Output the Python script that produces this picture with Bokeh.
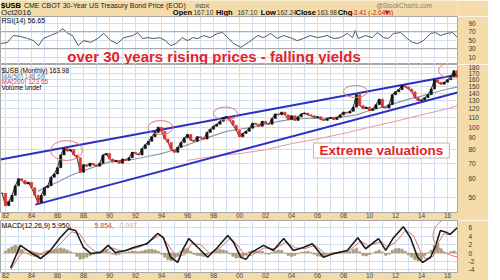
from bokeh.plotting import figure
from bokeh.layouts import column
from bokeh.models import Range1d, FixedTicker, Label, Span
from bokeh.embed import file_html
from bokeh.resources import INLINE

FONT = "Liberation Sans"
TAN = "#f3dcaa"
GRID = "#cfdff0"
W = 488
RB = 31
X0, X1 = 1981.615, 2016.77

# ---------------- data ----------------
year_ticks = list(range(1982, 2017, 2))
year_labels = {y: "%02d" % (y % 100) for y in year_ticks}
grid_years = list(range(1982, 2017))

price_ticks = [50, 60, 70, 80, 90, 100, 110, 120, 130, 140, 150, 160, 170, 180]
rsi_ticks = [10, 30, 50, 70, 90]
macd_ticks = [-4, -2, 0, 2, 4, 6]

price_start = 1981.75
price_close = [
    52,
    46, 48, 51, 56,   60, 59, 57, 58,   55, 51, 47.5, 51,   55, 56, 61, 63,
    67, 76, 81, 79,   80, 76, 74, 64,   69, 68, 70, 69,   68, 70, 76, 77,
    73, 71, 72, 70,   73, 72, 74, 78,   77, 76, 81, 84,   87, 91, 95, 100,
    96, 89, 86, 80,   78, 82, 86, 90,   93, 88, 87, 91,   90, 89, 95, 98,
    101, 103, 106, 110,   111, 107, 102, 97,   91, 94, 96, 99,   104, 103, 101, 106,
    104, 103, 109, 114,   113, 116, 113, 108,   112, 107, 111, 114,   115, 113, 112, 110,
    111, 108, 107, 109,   110, 108, 110, 113,   116, 115, 117, 122,   138, 124, 120, 122,
    118, 120, 125, 132,   122, 121, 125, 138,   142, 145, 151, 149,   146, 142, 134, 130,
    131, 134, 138, 146,   160, 156, 153, 156,   160, 165, 175, 163.98,
]
price_year = [price_start + 0.25 * i for i in range(len(price_close))]

ma50_year = [1984.5, 1985, 1986, 1987, 1988, 1989, 1990, 1991, 1992, 1993, 1994, 1995, 1996,
             1997, 1998, 1999, 2000, 2001, 2002, 2003, 2004, 2005, 2006, 2007, 2008, 2009,
             2010, 2011, 2012, 2013, 2014, 2015, 2016, 2016.75]
ma50_val = [53, 55, 58, 62, 65, 68, 71, 72, 73, 75, 77, 80, 84, 88, 92, 96, 98, 100, 103, 106,
            108, 109, 109, 110, 111, 113, 118, 122, 127, 132, 136, 141, 146, 148.69]

ma200_year = [1996, 1998, 2000, 2002, 2004, 2006, 2008, 2010, 2012, 2014, 2016, 2016.75]
ma200_val = [72, 75, 77, 80, 85, 89, 94, 100, 106, 113, 120, 123.65]

chan_up_year = [1981.615, 2016.77]
chan_up_val = [72.6, 168]
chan_lo_year = [1984.3, 2016.77]
chan_lo_val = [46.5, 141]

circle_year = [1986.69, 1993.92, 1998.92, 2008.92, 2016.31]
circle_val = [79.4, 99.7, 114.5, 142.4, 175.3]
circle_w = [32, 25, 24, 24, 26]
circle_h = [20, 14, 13, 12, 15]

rsi_year = [1981.62, 1982.15, 1982.6, 1983.15, 1983.7, 1984.15, 1984.55, 1984.9, 1985.45, 1986.0,
            1986.4, 1986.8, 1987.15, 1987.6, 1988.0, 1988.55, 1989.1, 1989.55, 1990.1, 1990.6,
            1991.1, 1991.8, 1992.15, 1992.55, 1992.9, 1993.4, 1993.9, 1994.3, 1994.7, 1995.1,
            1995.6, 1996.0, 1996.4, 1996.8, 1997.25, 1997.75, 1998.3, 1998.7, 1999.1, 1999.55,
            2000.1, 2000.7, 2001.4, 2001.85, 2002.4, 2002.9, 2003.4, 2003.9, 2004.45, 2004.9,
            2005.45, 2006.0, 2006.75, 2007.25, 2007.75, 2008.3, 2008.7, 2008.9, 2009.15, 2009.7,
            2010.2, 2010.6, 2011.1, 2011.45, 2011.85, 2012.4, 2012.9, 2013.3, 2013.7, 2014.15,
            2014.7, 2015.1, 2015.45, 2015.95, 2016.4, 2016.75]
rsi_val = [42, 45, 61, 59, 54, 49, 37, 54, 61, 68, 77, 66, 61, 37, 49, 45, 54, 66, 49, 42,
           56, 61, 68, 54, 56, 54, 56, 49, 37, 42, 56, 49, 56, 54, 61, 56, 66, 68, 56, 42,
           33, 45, 61, 56, 66, 54, 61, 56, 49, 54, 61, 56, 61, 54, 56, 66, 56, 73, 54, 61,
           56, 68, 56, 54, 66, 68, 54, 45, 42, 49, 66, 68, 61, 66, 68, 56.65]

macd_year = [1982.4, 1982.75, 1983.15, 1983.7, 1984.7, 1985.45, 1986.2, 1986.85, 1987.4, 1988.0,
             1988.55, 1989.3, 1989.9, 1990.45, 1991.25, 1991.85, 1992.9, 1993.7, 1994.15, 1994.7,
             1995.25, 1995.6, 1996.1, 1996.8, 1997.55, 1998.3, 1999.1, 1999.55, 2000.1, 2000.5,
             2000.9, 2001.85, 2002.6, 2003.4, 2004.15, 2004.9, 2005.6, 2006.45, 2007.25, 2008.3,
             2009.1, 2009.7, 2010.7, 2011.25, 2011.85, 2012.6, 2013.15, 2013.7, 2014.1, 2014.7,
             2015.1, 2015.45, 2015.95, 2016.2, 2016.75]
macd_val = [-3.5, -1.0, 1.8, 0.6, -1.3, 0.6, 3.6, 5.7, 5.3, 1.3, -0.1, 0.1, 1.8, 0.1, 0.6, 1.3,
            2.2, 4.6, 3.6, -1.0, -2.2, 0.6, 3.4, 1.3, -1.0, 1.3, 4.1, 2.5, -1.0, -1.5, 0.1, 1.8,
            0.6, 3.4, 0.6, 1.3, 2.2, -1.0, -0.1, 0.6, 3.6, 1.0, 3.4, 0.6, 3.6, 6.2, 3.6, -1.0,
            -2.2, -1.0, 1.8, 5.3, 4.8, 4.4, 5.95]

sig_year = [1982.4, 1983.0, 1983.5, 1984.2, 1985.0, 1985.7, 1986.4, 1987.1, 1987.7, 1988.3,
            1988.9, 1989.6, 1990.2, 1990.9, 1991.6, 1992.4, 1993.2, 1993.9, 1994.5, 1995.1,
            1995.8, 1996.3, 1997.0, 1997.7, 1998.5, 1999.3, 1999.8, 2000.4, 2000.9, 2001.9,
            2002.7, 2003.6, 2004.3, 2005.0, 2005.8, 2006.6, 2007.4, 2008.4, 2009.3, 2009.9,
            2010.9, 2011.4, 2012.0, 2012.8, 2013.4, 2013.9, 2014.3, 2014.9, 2015.3, 2015.7,
            2016.2, 2016.75]
sig_val = [-4.0, -1.0, 0.8, 0.2, -0.6, 0.5, 2.8, 5.0, 4.5, 1.8, 0.3, 0.5, 1.2, 0.5, 0.8, 1.5,
           3.0, 4.2, 2.0, -0.8, -0.4, 2.2, 2.0, 0.0, 1.2, 3.5, 2.0, -0.4, -0.6, 1.2, 1.0, 2.6,
           1.2, 1.0, 1.8, -0.2, -0.2, 0.4, 2.8, 1.8, 2.6, 1.4, 2.5, 5.4, 4.0, 0.5, -1.4, -0.8,
           2.4, 4.5, 4.3, 5.854]

hist_start = 1982.0
hist_val = [
    0.5, 1.0, 1.5, 1.8,   1.6, 0.8, 0.2, -0.3,   -0.6, -0.8, -0.9, -0.3,   0.3, 0.6, 0.5, 0.8,
    1.0, 1.2, 1.0, 0.7,   0.3, 0.0, -0.8, -1.5,  -1.3, -1.0, -0.6, -0.3,   0.0, 0.2, 0.6, 0.7,
    0.3, -0.3, -0.5, -0.3,   0.1, 0.2, 0.3, 0.5,   0.4, 0.3, 0.5, 0.7,   0.8, 0.9, 0.7, 0.4,
    -0.3, -1.0, -1.6, -1.8,  -1.3, -0.6, 0.4, 1.0,  1.1, 0.4, -0.3, -0.6,  -0.7, -0.8, -0.5, 0.0,
    0.4, 0.6, 0.8, 0.7,   0.5, -0.2, -0.8, -1.2,  -1.1, -0.8, -0.4, 0.3,   0.6, 0.5, 0.4, 0.4,
    -0.2, -0.3, 0.1, 0.5,   0.7, 0.6, 0.0, -0.6,  -0.8, -0.6, -0.2, 0.2,   0.3, 0.4, 0.2, -0.3,
    -0.7, -0.8, -0.6, -0.2,  0.0, 0.1, 0.0, 0.2,   0.3, 0.2, 0.3, 0.9,   1.1, 0.3, -0.6, -0.7,
    -0.4, 0.0, 0.4, 0.7,   0.2, -0.6, -0.3, 0.6,   1.0, 1.1, 0.9, 0.4,  -0.5, -1.0, -1.6, -1.9,
    -1.5, -0.6, 0.1, 0.7,   1.8, 2.2, 1.0, 0.2,   0.0, 0.3, 0.5, 0.097,
]
hist_year = [hist_start + 0.25 * i for i in range(len(hist_val))]


# ---------------- helpers ----------------
def panel(h, yr, ylog=False, bottom=0):
    p = figure(width=W, height=h, x_range=Range1d(X0, X1), y_range=yr,
               y_axis_type="log" if ylog else "linear",
               x_axis_location="below" if bottom else None, y_axis_location="right",
               output_backend="svg", toolbar_location=None,
               min_border_left=0, min_border_right=RB, min_border_top=0,
               min_border_bottom=bottom, border_fill_color=TAN,
               background_fill_color="white", outline_line_color="#a8a8a8")
    return p


def style(p, ticks):
    ax = p.yaxis[0]
    ax.ticker = FixedTicker(ticks=ticks)
    ax.major_label_overrides = {t: str(t) for t in ticks}
    ax.major_label_text_font = FONT
    ax.major_label_text_font_size = "6.5px"
    ax.major_label_text_color = "#333333"
    ax.axis_line_color = None
    ax.major_tick_line_color = None
    ax.minor_tick_line_color = None
    ax.major_label_standoff = 5
    p.ygrid.ticker = FixedTicker(ticks=ticks)
    p.ygrid.grid_line_color = GRID
    p.xgrid.ticker = FixedTicker(ticks=grid_years)
    p.xgrid.grid_line_color = GRID
    if p.below:
        bx = p.xaxis[0]
        bx.ticker = FixedTicker(ticks=year_ticks)
        bx.major_label_overrides = year_labels
        bx.major_label_text_font = FONT
        bx.major_label_text_font_size = "6.5px"
        bx.major_label_text_color = "#444444"
        bx.major_label_standoff = 0
        bx.major_tick_out = 0
        bx.major_tick_in = 0
        bx.axis_line_color = None
        bx.major_tick_line_color = None
        bx.minor_tick_line_color = None


def lab(p, x, y, text, size="7px", color="black", bold=False, xo=0, align="left", **kw):
    p.add_layout(Label(x=x, y=y, x_offset=xo, text=text, text_font=FONT, text_font_size=size,
                       text_color=color, text_font_style="bold" if bold else "normal",
                       text_baseline="middle", text_align=align, **kw))


def vbox(p, y, text, color, border):
    p.add_layout(Label(x=X1, y=y, x_offset=2, text=text, text_font=FONT, text_font_size="6.5px",
                       text_color=color, text_baseline="middle", text_align="left",
                       background_fill_color="white", border_line_color=border,
                       border_line_width=1))


# ---------------- header ----------------
hdr = figure(width=W, height=16, x_range=Range1d(0, W), y_range=Range1d(0, 16),
             x_axis_location=None, y_axis_location=None, output_backend="svg",
             toolbar_location=None, min_border=0, background_fill_color=TAN,
             border_fill_color=TAN, outline_line_color=None)
hdr.grid.visible = False
lab(hdr, 0.5, 11, "$USB", size="7.5px", bold=True)
lab(hdr, 25, 11, "CME CBOT 30-Year US Treasury Bond Price (EOD)", size="7px", color="#222222")
lab(hdr, 208, 11, "INDX", size="6px", color="#333333")
lab(hdr, 461, 11.5, "@StockCharts.com", size="6.5px", color="#9a7866", align="right")
lab(hdr, 0.5, 4.5, "Oct2016", size="8px", color="#222222")
hl = [(184, "Open", True, "black"), (206, "167.10", False, "#333333"),
      (230, "High", True, "black"), (253, "167.10", False, "#333333"),
      (278, "Low", True, "black"), (295, "162.24", False, "#333333"),
      (315, "Close", True, "black"), (338, "163.98", False, "#333333"),
      (360, "Chg", True, "black"), (375, "-3.41 (-2.04%)", False, "#d01010"),
      (411, "\u25be", True, "#d01010")]
for xx, tt, bb, cc in hl:
    lab(hdr, xx, 4.5, tt, size="7.5px" if bb else "6.5px", bold=bb, color=cc)

# ---------------- RSI ----------------
rsi = panel(48, Range1d(-7.3, 105.9))
style(rsi, rsi_ticks)
for lv in (30, 70):
    rsi.add_layout(Span(location=lv, dimension="width", line_color="#a0a0a0", line_width=1))
rsi.line(rsi_year, rsi_val, line_color="#555555", line_width=1)
lab(rsi, X0, 97.5, "RSI(14) 56.65", size="7px", xo=1)
vbox(rsi, rsi_val[-1], "56.65", "black", "#444444")
lab(rsi, 1998.04, 11.0, "over 30 years rising prices - falling yields", size="15px",
    color="#e3222b", bold=True, align="center")

# ---------------- price ----------------
pr = panel(156, Range1d(43.0, 186), ylog=True, bottom=8)
style(pr, price_ticks)
opens = [price_close[0]] + price_close[:-1]
up_x = [x for x, o, c in zip(price_year, opens, price_close) if c >= o]
up_t = [c for o, c in zip(opens, price_close) if c >= o]
up_b = [o for o, c in zip(opens, price_close) if c >= o]
dn_x = [x for x, o, c in zip(price_year, opens, price_close) if c < o]
dn_t = [o for o, c in zip(opens, price_close) if c < o]
dn_b = [c for o, c in zip(opens, price_close) if c < o]
pr.line(ma200_year, ma200_val, line_color="#e89a9a", line_width=1)
pr.line(ma50_year, ma50_val, line_color="#8f9aa8", line_width=1.2)
pr.line(chan_up_year, chan_up_val, line_color="#2b2fc4", line_width=2)
pr.line(chan_lo_year, chan_lo_val, line_color="#2b2fc4", line_width=2)
pr.line(price_year, price_close, line_color="#2a2a2a", line_width=1)
pr.vbar(x=up_x, top=up_t, bottom=up_b, width=0.17, fill_color="#111111", line_color="#111111",
        line_width=0.6)
pr.vbar(x=dn_x, top=dn_t, bottom=dn_b, width=0.17, fill_color="#e0302a", line_color="#e0302a",
        line_width=0.6)
pr.ellipse(x=circle_year, y=circle_val, width=circle_w, height=circle_h,
           width_units="screen", height_units="screen", fill_color=None,
           line_color="#e07a7a", line_width=1)
lab(pr, X0, 175.3, "$USB (Monthly) 163.98", size="6.5px", xo=1)
lab(pr, X0, 165.7, "MA(50) 148.69", size="6.5px", color="#6c7c90", xo=1)
lab(pr, X0, 156.7, "MA(200) 123.65", size="6.5px", color="#d04040", xo=1)
lab(pr, X0, 148.2, "Volume undef", size="6.5px", xo=1)
vbox(pr, price_close[-1], "163.98", "black", "#333333")
vbox(pr, ma50_val[-1], "148.69", "#6c7c90", "#8f9aa8")
vbox(pr, ma200_val[-1], "123.65", "#c04040", "#e89a9a")
pr.add_layout(Label(x=2010.92, y=79.4, text="Extreme valuations", text_font=FONT,
                    text_font_size="13.5px", text_font_style="bold", text_color="#e3222b",
                    text_align="center", text_baseline="middle", background_fill_color="white",
                    border_line_color="#b8b8b8", border_line_width=1,
                    padding=dict(x=6, y=0)))

# ---------------- MACD ----------------
md = panel(60, Range1d(-4.59, 7.65), bottom=8)
style(md, macd_ticks)
md.vbar(x=hist_year, top=hist_val, bottom=0, width=0.2, fill_color="#a89c7c",
        line_color="#a89c7c", line_width=0.5)
md.line(sig_year, sig_val, line_color="#d97070", line_width=1)
md.line(macd_year, macd_val, line_color="#1a1a1a", line_width=1.6)
md.ellipse(x=[2017.38], y=[4.1], width=[65], height=[44], width_units="screen",
           height_units="screen", fill_color=None, line_color="#e07a7a", line_width=1)
lab(md, X0, 6.5, "MACD(12,26,9) 5.950,", size="7px", xo=1)
lab(md, X0, 6.5, "5.854,", size="7px", color="#d04040", xo=94)
lab(md, X0, 6.5, "0.097", size="7px", color="#c8b898", xo=119)
vbox(md, macd_val[-1], "5.950", "black", "#333333")
vbox(md, hist_val[-1], "0.097", "black", "#333333")

layout = column(hdr, rsi, pr, md, spacing=0)
open("out.html", "w").write(file_html(layout, INLINE))
